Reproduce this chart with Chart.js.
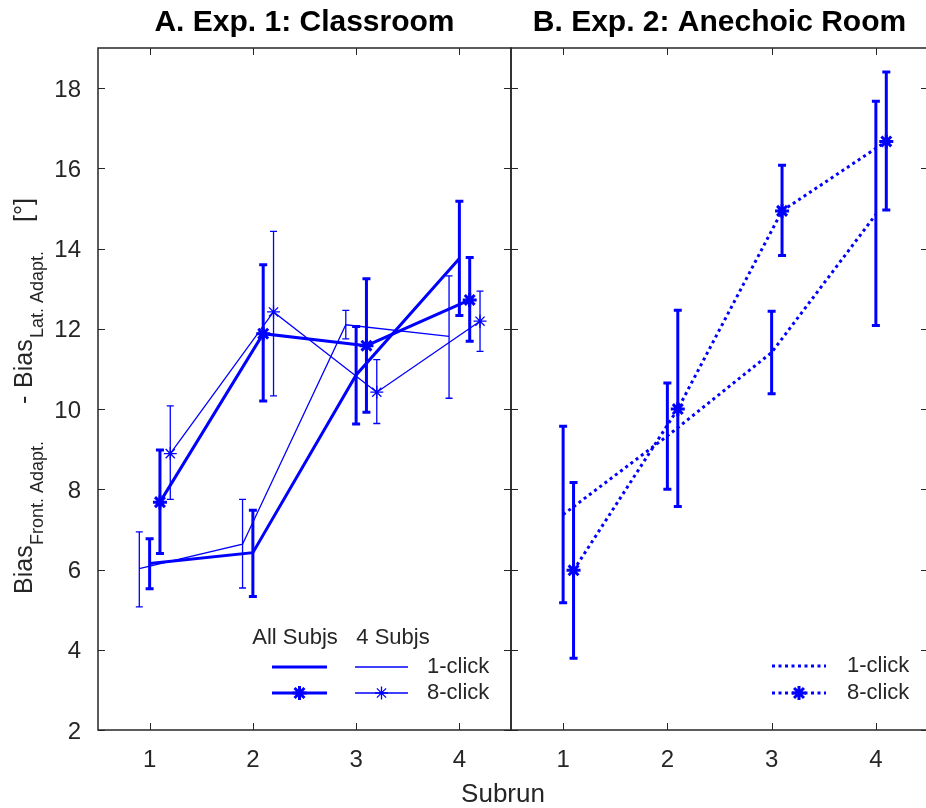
<!DOCTYPE html>
<html><head><meta charset="utf-8">
<script src="https://cdn.jsdelivr.net/npm/chart.js@4"></script>
<style>
html,body{margin:0;padding:0;background:#fff;width:926px;height:808px;overflow:hidden;}
.wrap{position:absolute;top:0;height:808px;}
#wa{left:0;width:560px;}
#wb{left:490px;width:450px;}
</style></head><body>
<div class="wrap" id="wa"><canvas id="ca"></canvas></div>
<div class="wrap" id="wb"><canvas id="cb"></canvas></div>
<script>
// ---------- data ----------
const subruns = [1, 2, 3, 4];
const xTickValues = [1, 2, 3, 4];
const yTickValues = [2, 4, 6, 8, 10, 12, 14, 16, 18];

// Exp. 1 (Classroom)
const exp1All1Click      = [6.15, 6.42, 10.85, 13.75];
const exp1All1ClickLow   = [5.52, 5.33, 9.63, 12.33];
const exp1All1ClickHigh  = [6.77, 7.48, 12.06, 15.18];
const exp1All8Click      = [7.68, 11.88, 11.58, 12.72];
const exp1All8ClickLow   = [6.40, 10.20, 9.92, 11.69];
const exp1All8ClickHigh  = [8.98, 13.60, 13.25, 13.78];
const exp1Four1Click     = [6.02, 6.63, 12.10, 11.81];
const exp1Four1ClickLow  = [5.07, 5.54, 11.75, 10.27];
const exp1Four1ClickHigh = [6.94, 7.75, 12.46, 13.32];
const exp1Four8Click     = [8.89, 12.42, 10.42, 12.19];
const exp1Four8ClickLow  = [7.75, 10.33, 9.64, 11.44];
const exp1Four8ClickHigh = [10.08, 14.43, 11.23, 12.94];

// Exp. 2 (Anechoic room)
const exp2Click1     = [7.37, 9.33, 11.41, 14.85];
const exp2Click1Low  = [5.17, 8.00, 10.38, 12.08];
const exp2Click1High = [9.57, 10.65, 12.44, 17.67];
const exp2Click8     = [5.98, 10.00, 14.94, 16.67];
const exp2Click8Low  = [3.79, 7.57, 13.83, 14.96];
const exp2Click8High = [8.17, 12.46, 16.08, 18.40];

const panelTitles = ['A. Exp. 1: Classroom', 'B. Exp. 2: Anechoic Room'];
const xAxisTitle = 'Subrun';
const legendHeaders = ['All Subjs', '4 Subjs'];
const legendLabels = ['1-click', '8-click'];

// ---------- styles ----------
const BLUE = '#0000ff';
const AX = '#262626';
const FONT = '"Liberation Sans", Arial, Helvetica, sans-serif';

function pts(xs, ys, off) { return xs.map((x, i) => ({ x: x + off, y: ys[i] })); }

const framePlugin = {
  id: 'frame',
  afterDraw(chart) {
    const { ctx, chartArea: a, scales: { x, y } } = chart;
    const tl = 7;
    ctx.save();
    ctx.strokeStyle = AX;
    ctx.lineWidth = 1.5;
    ctx.strokeRect(a.left, a.top, a.right - a.left, a.bottom - a.top);
    ctx.lineWidth = 1;
    ctx.beginPath();
    xTickValues.forEach(v => {
      const px = Math.round(x.getPixelForValue(v)) + 0.5;
      ctx.moveTo(px, a.bottom); ctx.lineTo(px, a.bottom - tl);
      ctx.moveTo(px, a.top); ctx.lineTo(px, a.top + tl);
    });
    yTickValues.forEach(v => {
      const py = Math.round(y.getPixelForValue(v)) + 0.5;
      ctx.moveTo(a.left, py); ctx.lineTo(a.left + tl, py);
      ctx.moveTo(a.right, py); ctx.lineTo(a.right - tl, py);
    });
    ctx.stroke();
    ctx.restore();
  }
};

const errorBarPlugin = {
  id: 'errbars',
  afterDatasetsDraw(chart) {
    const { ctx, scales: { x, y } } = chart;
    ctx.save();
    chart.data.datasets.forEach(ds => {
      if (!ds.errLow) return;
      ctx.strokeStyle = ds.borderColor;
      ctx.lineWidth = ds.errWidth;
      ctx.lineCap = 'butt';
      ctx.setLineDash([]);
      ds.data.forEach((p, i) => {
        const px = x.getPixelForValue(p.x);
        const yl = y.getPixelForValue(ds.errLow[i]);
        const yh = y.getPixelForValue(ds.errHigh[i]);
        ctx.beginPath();
        ctx.moveTo(px, yl); ctx.lineTo(px, yh);
        ctx.moveTo(px - ds.capHalf, yl); ctx.lineTo(px + ds.capHalf, yl);
        ctx.moveTo(px - ds.capHalf, yh); ctx.lineTo(px + ds.capHalf, yh);
        ctx.stroke();
      });
    });
    ctx.restore();
  }
};

function drawStar(ctx, cx, cy, r, lw) {
  ctx.save();
  ctx.lineWidth = lw;
  ctx.setLineDash([]);
  ctx.beginPath();
  for (let k = 0; k < 4; k++) {
    const ang = k * Math.PI / 4;
    ctx.moveTo(cx - Math.cos(ang) * r, cy - Math.sin(ang) * r);
    ctx.lineTo(cx + Math.cos(ang) * r, cy + Math.sin(ang) * r);
  }
  ctx.stroke();
  ctx.restore();
}

const legendAPlugin = {
  id: 'legendA',
  afterDraw(chart) {
    const ctx = chart.ctx;
    const dsets = chart.data.datasets;
    ctx.save();
    ctx.fillStyle = AX;
    ctx.font = '22px ' + FONT;
    ctx.textBaseline = 'middle';
    ctx.textAlign = 'center';
    ctx.fillText(legendHeaders[0], 295, 638);
    ctx.fillText(legendHeaders[1], 393, 638);
    ctx.textAlign = 'left';
    ctx.fillText(legendLabels[0], 427, 667);
    ctx.fillText(legendLabels[1], 427, 693);
    ctx.strokeStyle = BLUE;
    const rows = [[dsets[2], dsets[0], 667], [dsets[3], dsets[1], 693]];
    rows.forEach(([thick, thin, yy], ri) => {
      ctx.lineWidth = thick.borderWidth;
      ctx.beginPath(); ctx.moveTo(272, yy); ctx.lineTo(327, yy); ctx.stroke();
      ctx.lineWidth = thin.borderWidth;
      ctx.beginPath(); ctx.moveTo(355, yy); ctx.lineTo(408, yy); ctx.stroke();
      if (ri === 1) {
        drawStar(ctx, 299.5, yy, thick.pointRadius, thick.pointBorderWidth);
        drawStar(ctx, 381.5, yy, thin.pointRadius, thin.pointBorderWidth);
      }
    });
    ctx.restore();
  }
};

const labelsPlugin = {
  id: 'labelsA',
  afterDraw(chart) {
    const ctx = chart.ctx;
    ctx.save();
    ctx.fillStyle = AX;
    // x axis title
    ctx.font = '26px ' + FONT;
    ctx.textAlign = 'center';
    ctx.textBaseline = 'alphabetic';
    ctx.fillText(xAxisTitle, 503, 802);
    // y axis title with subscripts
    ctx.rotate(-Math.PI / 2);
    ctx.textAlign = 'left';
    const big = '25px ' + FONT, small = '18px ' + FONT;
    const parts = [
      ['Bias', big, 594, 32],
      ['Front. Adapt.', small, 545, 43],
      ['-', big, 404, 32],
      ['Bias', big, 388, 32],
      ['Lat. Adapt.', small, 338, 43],
      ['[\u00b0]', big, 222, 32]
    ];
    parts.forEach(([t, f, start, base]) => {
      ctx.font = f;
      ctx.fillText(t, -start, base);
    });
    ctx.restore();
  }
};

const legendBPlugin = {
  id: 'legendB',
  afterDraw(chart) {
    const ctx = chart.ctx;
    const dsets = chart.data.datasets;
    const off = chart.canvas.parentNode.offsetLeft;
    ctx.save();
    ctx.translate(-off, 0);
    ctx.fillStyle = AX;
    ctx.font = '22px ' + FONT;
    ctx.textBaseline = 'middle';
    ctx.textAlign = 'left';
    ctx.fillText(legendLabels[0], 847, 666);
    ctx.fillText(legendLabels[1], 847, 693);
    ctx.strokeStyle = BLUE;
    [[dsets[0], 666], [dsets[1], 693]].forEach(([ds, yy], ri) => {
      ctx.lineWidth = ds.borderWidth;
      ctx.setLineDash(ds.borderDash);
      ctx.beginPath(); ctx.moveTo(772, yy); ctx.lineTo(826, yy); ctx.stroke();
      if (ri === 1) drawStar(ctx, 799, yy, ds.pointRadius, ds.pointBorderWidth);
    });
    ctx.restore();
  }
};

function xScale() {
  return {
    type: 'linear', min: 0.5, max: 4.5,
    grid: { display: false }, border: { display: false },
    afterBuildTicks: s => { s.ticks = xTickValues.map(v => ({ value: v })); },
    afterFit: s => { s.height = 78; },
    ticks: { color: AX, font: { size: 24, family: FONT }, padding: 8, autoSkip: false, maxRotation: 0 }
  };
}
function titleOpt(text) {
  return {
    display: true, text, fullSize: false, color: '#000',
    font: { size: 30, weight: 'bold', family: FONT, lineHeight: 1.2 },
    padding: { top: 5, bottom: 7 }
  };
}

new Chart(document.getElementById('ca'), {
  type: 'line',
  data: {
    datasets: [
      { label: '4 Subjs 1-click', data: pts(subruns, exp1Four1Click, -0.1), errLow: exp1Four1ClickLow, errHigh: exp1Four1ClickHigh,
        borderColor: BLUE, borderWidth: 1.3, pointRadius: 0, errWidth: 1.3, capHalf: 3.5, tension: 0, fill: false },
      { label: '4 Subjs 8-click', data: pts(subruns, exp1Four8Click, 0.2), errLow: exp1Four8ClickLow, errHigh: exp1Four8ClickHigh,
        borderColor: BLUE, borderWidth: 1.3, pointStyle: 'star', pointRadius: 6.5, pointBorderWidth: 1.3, pointBorderColor: BLUE,
        errWidth: 1.3, capHalf: 3.5, tension: 0, fill: false },
      { label: 'All Subjs 1-click', data: pts(subruns, exp1All1Click, 0), errLow: exp1All1ClickLow, errHigh: exp1All1ClickHigh,
        borderColor: BLUE, borderWidth: 3, pointRadius: 0, errWidth: 3, capHalf: 4, tension: 0, fill: false },
      { label: 'All Subjs 8-click', data: pts(subruns, exp1All8Click, 0.1), errLow: exp1All8ClickLow, errHigh: exp1All8ClickHigh,
        borderColor: BLUE, borderWidth: 3, pointStyle: 'star', pointRadius: 7, pointBorderWidth: 3, pointBorderColor: BLUE,
        errWidth: 3, capHalf: 4, tension: 0, fill: false }
    ]
  },
  options: {
    responsive: true, maintainAspectRatio: false, animation: false,
    layout: { padding: { left: 0, right: 49, top: 0, bottom: 0 } },
    scales: {
      x: xScale(),
      y: {
        type: 'linear', min: 2, max: 19,
        grid: { display: false }, border: { display: false },
        afterBuildTicks: s => { s.ticks = yTickValues.map(v => ({ value: v })); },
        afterFit: s => { s.width = 98; },
        ticks: { color: AX, font: { size: 24, family: FONT }, padding: 9, labelOffset: 2, autoSkip: false }
      }
    },
    plugins: { legend: { display: false }, tooltip: { enabled: false }, title: titleOpt(panelTitles[0]) }
  },
  plugins: [errorBarPlugin, framePlugin, legendAPlugin, labelsPlugin]
});

new Chart(document.getElementById('cb'), {
  type: 'line',
  data: {
    datasets: [
      { label: '1-click', data: pts(subruns, exp2Click1, 0), errLow: exp2Click1Low, errHigh: exp2Click1High,
        borderColor: BLUE, borderWidth: 3, borderDash: [3, 3.5], pointRadius: 0, errWidth: 3, capHalf: 4, tension: 0, fill: false },
      { label: '8-click', data: pts(subruns, exp2Click8, 0.1), errLow: exp2Click8Low, errHigh: exp2Click8High,
        borderColor: BLUE, borderWidth: 3, borderDash: [3, 3.5], pointStyle: 'star', pointRadius: 7, pointBorderWidth: 3, pointBorderColor: BLUE,
        errWidth: 3, capHalf: 4, tension: 0, fill: false }
    ]
  },
  options: {
    responsive: true, maintainAspectRatio: false, animation: false,
    layout: { padding: { left: 21, right: 12, top: 0, bottom: 0 } },
    scales: {
      x: xScale(),
      y: { type: 'linear', min: 2, max: 19, display: false,
           afterBuildTicks: s => { s.ticks = yTickValues.map(v => ({ value: v })); } }
    },
    plugins: { legend: { display: false }, tooltip: { enabled: false }, title: titleOpt(panelTitles[1]) }
  },
  plugins: [errorBarPlugin, framePlugin, legendBPlugin]
});
</script>
</body></html>
